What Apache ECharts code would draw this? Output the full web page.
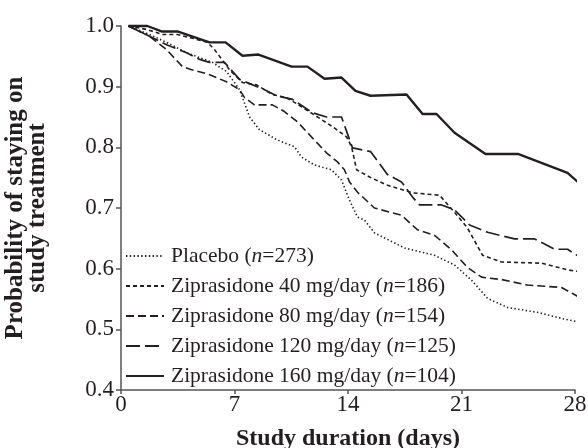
<!DOCTYPE html>
<html>
<head>
<meta charset="utf-8">
<script src="https://cdn.jsdelivr.net/npm/echarts@6/dist/echarts.min.js"></script>
<style>
html,body{margin:0;padding:0;background:#fff;}
#chart{width:588px;height:448px;}
</style>
</head>
<body>
<div id="chart"></div>
<script>
// Study day tick labels
const xTicks = [0, 7, 14, 21, 28];
const yTicks = [0.4, 0.5, 0.6, 0.7, 0.8, 0.9, 1.0];

const seriesNames = [
  'Placebo (n=273)',
  'Ziprasidone 40 mg/day (n=186)',
  'Ziprasidone 80 mg/day (n=154)',
  'Ziprasidone 120 mg/day (n=125)',
  'Ziprasidone 160 mg/day (n=104)'
];

// [day, probability]
const placebo = [
  [0.46,1.0],[1.76,0.986],[2.81,0.973],[4.04,0.956],[4.84,0.948],[5.64,0.940],[6.51,0.925],
  [7.31,0.895],[7.93,0.850],[8.54,0.829],[9.65,0.812],[10.70,0.801],[11.13,0.784],[11.93,0.771],
  [12.98,0.763],[13.60,0.746],[14.09,0.713],[14.59,0.685],[15.02,0.680],[15.63,0.659],[17.49,0.634],
  [19.34,0.622],[20.57,0.606],[21.62,0.581],[22.61,0.551],[23.84,0.536],[25.69,0.528],[27.17,0.518],
  [28.59,0.510]
];
const zip40 = [
  [0.46,1.0],[1.63,0.994],[2.56,0.986],[3.48,0.986],[4.53,0.979],[5.33,0.973],[5.77,0.961],
  [6.69,0.928],[7.49,0.907],[8.36,0.903],[9.34,0.887],[10.21,0.882],[11.01,0.869],[13.05,0.834],
  [13.92,0.817],[14.22,0.801],[14.53,0.763],[15.33,0.751],[16.38,0.738],[17.98,0.725],[19.65,0.721],
  [20.57,0.693],[21.37,0.667],[22.30,0.622],[23.47,0.611],[25.94,0.609],[27.54,0.598],[28.59,0.594]
];
const zip80 = [
  [0.46,1.0],[1.76,0.983],[2.81,0.961],[3.79,0.933],[4.35,0.928],[5.33,0.921],[6.51,0.908],
  [7.31,0.895],[7.62,0.882],[8.23,0.870],[9.34,0.870],[10.08,0.859],[10.88,0.842],[11.93,0.812],
  [12.67,0.791],[13.35,0.776],[13.78,0.763],[14.09,0.743],[14.59,0.726],[15.63,0.700],[17.30,0.688],
  [18.29,0.664],[19.34,0.655],[20.39,0.631],[21.37,0.602],[22.24,0.586],[23.47,0.582],[25.07,0.573],
  [27.17,0.569],[28.59,0.548]
];
const zip120 = [
  [0.46,1.0],[1.76,0.983],[2.81,0.969],[4.04,0.956],[4.84,0.945],[5.46,0.940],[6.38,0.940],
  [7.31,0.912],[7.93,0.905],[8.85,0.895],[9.59,0.885],[10.58,0.879],[11.81,0.857],[12.67,0.850],
  [13.60,0.850],[14.28,0.799],[15.39,0.793],[16.44,0.755],[17.30,0.743],[17.98,0.718],[18.41,0.705],
  [19.77,0.705],[20.57,0.697],[21.50,0.672],[22.61,0.660],[24.27,0.649],[25.51,0.649],[26.74,0.632],
  [27.54,0.632],[28.59,0.614]
];
const zip160 = [
  [0.46,1.0],[1.63,1.0],[2.50,0.991],[3.48,0.991],[5.46,0.973],[6.45,0.973],[7.49,0.951],
  [8.48,0.953],[10.52,0.933],[11.50,0.933],[12.55,0.913],[13.60,0.915],[14.46,0.893],[15.39,0.885],
  [17.61,0.887],[18.60,0.855],[19.46,0.855],[20.57,0.824],[22.48,0.789],[24.52,0.789],[27.54,0.758],
  [28.59,0.733]
];

const allData = [placebo, zip40, zip80, zip120, zip160];
const dashTypes = [[1.4, 2.4], [4, 3], [8, 4], [14, 5], 'solid'];
const widths = [1.6, 1.6, 1.6, 1.7, 2.4];

const ink = '#231f20';
const font = '"Liberation Serif", "DejaVu Serif", serif';

const chart = echarts.init(document.getElementById('chart'), null, {renderer: 'canvas'});

const series = allData.map((d, i) => ({
  name: seriesNames[i],
  type: 'line',
  data: d,
  symbol: 'none',
  showSymbol: false,
  clip: false,
  animation: false,
  lineStyle: {color: ink, width: widths[i], type: dashTypes[i]},
  itemStyle: {color: ink}
}));

chart.setOption({
  animation: false,
  backgroundColor: '#fff',
  grid: {left: 121, right: 13, top: 26, bottom: 58, containLabel: false, outerBoundsMode: 'none'},
  xAxis: {
    type: 'value', min: xTicks[0], max: xTicks[xTicks.length - 1], interval: 7,
    name: 'Study duration (days)', nameLocation: 'middle', nameGap: 37,
    nameTextStyle: {fontFamily: font, fontWeight: 'bold', fontSize: 24, color: ink},
    axisLine: {lineStyle: {color: '#555', width: 1.5}},
    axisTick: {inside: false, length: 4, lineStyle: {color: '#555', width: 1.5}},
    axisLabel: {fontFamily: font, fontSize: 23, color: ink, margin: 3},
    splitLine: {show: false}
  },
  yAxis: {
    type: 'value', min: yTicks[0], max: yTicks[yTicks.length - 1], interval: 0.1,
    name: 'Probability of staying on\nstudy treatment', nameLocation: 'middle', nameGap: 72,
    nameRotate: 90,
    nameTextStyle: {fontFamily: font, fontWeight: 'bold', fontSize: 25, color: ink, lineHeight: 22},
    axisLine: {show: true, lineStyle: {color: '#555', width: 1.5}},
    axisTick: {show: true, inside: false, length: 5, lineStyle: {color: '#555', width: 1.5}},
    axisLabel: {fontFamily: font, fontSize: 23, color: ink, margin: 7,
      formatter: v => v.toFixed(1)},
    splitLine: {show: false}
  },
  legend: {
    orient: 'vertical', left: 125, top: 245, padding: 0,
    itemWidth: 38, itemHeight: 20, itemGap: 8,
    data: seriesNames,
    itemStyle: {color: 'transparent', borderColor: 'transparent', borderWidth: 0},
    formatter: name => name.replace(/\(n=(\d+)\)/, '({i|n}=$1)'),
    textStyle: {
      fontFamily: font, fontSize: 21.5, color: ink, padding: [0, 0, 0, 2],
      rich: {i: {fontFamily: font, fontSize: 21.5, fontStyle: 'italic', color: ink}}
    }
  },
  series: series
});
</script>
</body>
</html>
